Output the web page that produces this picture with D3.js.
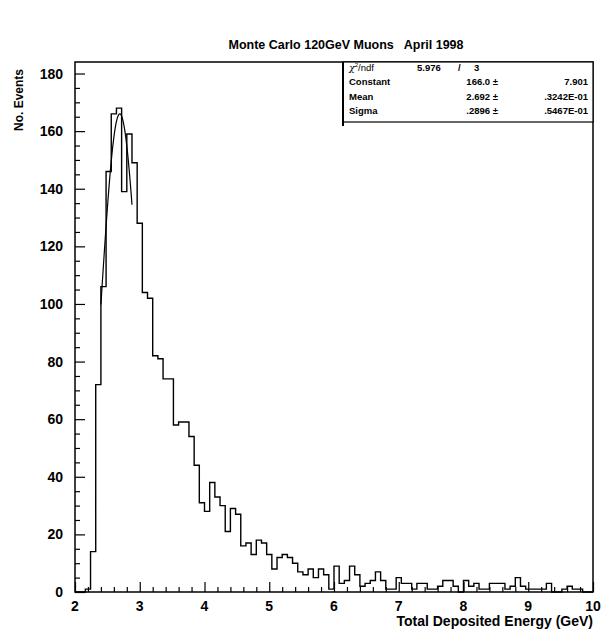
<!DOCTYPE html>
<html>
<head>
<meta charset="utf-8">
<script src="https://cdn.jsdelivr.net/npm/d3@7"></script>
<style>
  body { margin: 0; background: #fff; }
  svg text { font-family: "Liberation Sans", Arial, Helvetica, sans-serif; font-weight: bold; fill: #000; white-space: pre; }
</style>
</head>
<body>
<div id="chart"></div>
<script>
// histogram: 100 bins from 2 to 10 GeV
const binLow = 2;
const binHigh = 10;
const counts = [
    0, 0, 1, 14, 72, 106, 146, 166, 168, 139,
    159, 149, 128, 104, 102, 82, 81, 74, 74, 58,
    59, 59, 54, 44, 31, 28, 38, 33, 30, 21,
    29, 27, 16, 17, 13, 18, 17, 13, 8, 12,
    13, 12, 10, 7, 6, 8, 5, 8, 6, 1,
    9, 3, 4, 9, 6, 2, 3, 4, 7, 4,
    1, 1, 5, 3, 3, 1, 3, 3, 1, 1,
    2, 4, 4, 2, 0, 4, 2, 3, 1, 1,
    3, 3, 3, 1, 2, 5, 2, 1, 1, 1,
    1, 3, 0, 0, 1, 2, 1, 1, 0, 0
];

// gaussian fit shown in the stats box
const fitConstant = 166.0;
const fitMean = 2.692;
const fitSigma = 0.2896;
const fitRange = [2.4, 2.88];

const xTicks = [2, 3, 4, 5, 6, 7, 8, 9, 10];
const yTicks = [0, 20, 40, 60, 80, 100, 120, 140, 160, 180];

const statsRows = [
    ["Constant", "166.0 \u00b1", "7.901"],
    ["Mean", "2.692 \u00b1", ".3242E-01"],
    ["Sigma", ".2896 \u00b1", ".5467E-01"]
];
const chiValue = "5.976";
const ndfValue = "3";

const title = "Monte Carlo 120GeV Muons   April 1998";
const xLabel = "Total Deposited Energy (GeV)";
const yLabel = "No. Events";

const width = 606;
const height = 634;
const margin = { top: 62, right: 13, bottom: 42, left: 75 };

const svg = d3.select("#chart")
    .append("svg")
    .attr("width", width)
    .attr("height", height);

const xScale = d3.scaleLinear()
    .domain([binLow, binHigh])
    .range([margin.left, width - margin.right]);

const yScale = d3.scaleLinear()
    .domain([0, 184])
    .range([height - margin.bottom, margin.top]);

const binWidth = (binHigh - binLow) / counts.length;

// histogram outline
const pts = [[binLow, 0]];
counts.forEach((c, i) => pts.push([binLow + i * binWidth, c]));
pts.push([binHigh, counts[counts.length - 1]]);
pts.push([binHigh, 0]);

const histLine = d3.line()
    .x(d => xScale(d[0]))
    .y(d => yScale(d[1]))
    .curve(d3.curveStepAfter);

svg.append("path")
    .datum(pts)
    .attr("fill", "none")
    .attr("stroke", "#000")
    .attr("stroke-width", 1.4)
    .attr("d", histLine);

// fit curve
const fitPts = d3.range(fitRange[0], fitRange[1] + 1e-9, 0.01).map(x =>
    [x, fitConstant * Math.exp(-0.5 * Math.pow((x - fitMean) / fitSigma, 2))]);

svg.append("path")
    .datum(fitPts)
    .attr("fill", "none")
    .attr("stroke", "#000")
    .attr("stroke-width", 1.2)
    .attr("d", d3.line().x(d => xScale(d[0])).y(d => yScale(d[1])).curve(d3.curveMonotoneX));

// frame
svg.append("rect")
    .attr("x", margin.left)
    .attr("y", margin.top)
    .attr("width", width - margin.left - margin.right)
    .attr("height", height - margin.top - margin.bottom)
    .attr("fill", "none")
    .attr("stroke", "#000")
    .attr("stroke-width", 1.5);

// ticks pointing inward, PAW style
const xAxis = d3.axisTop(xScale)
    .tickValues(d3.range(binLow, binHigh + 0.001, 0.2))
    .tickSize(5)
    .tickFormat("");
svg.append("g")
    .attr("transform", `translate(0,${height - margin.bottom})`)
    .call(xAxis)
    .call(g => g.select(".domain").remove())
    .call(g => g.selectAll(".tick line")
        .attr("y2", d => Math.abs(d - Math.round(d)) < 1e-6 ? -10 : -5)
        .attr("stroke-width", 1.2));

const yAxis = d3.axisRight(yScale)
    .tickValues(d3.range(0, 184, 5))
    .tickSize(5)
    .tickFormat("");
svg.append("g")
    .attr("transform", `translate(${margin.left},0)`)
    .call(yAxis)
    .call(g => g.select(".domain").remove())
    .call(g => g.selectAll(".tick line")
        .attr("x2", d => d % 20 === 0 ? 10 : 5)
        .attr("stroke-width", 1.2));

// tick labels
svg.append("g").selectAll("text")
    .data(xTicks)
    .enter().append("text")
    .attr("x", d => xScale(d))
    .attr("y", height - margin.bottom + 19)
    .attr("text-anchor", "middle")
    .style("font-size", "14px")
    .text(d => d);

svg.append("g").selectAll("text")
    .data(yTicks)
    .enter().append("text")
    .attr("x", margin.left - 12)
    .attr("y", d => yScale(d) + 5)
    .attr("text-anchor", "end")
    .style("font-size", "14px")
    .text(d => d);

// titles
svg.append("text")
    .attr("x", 346)
    .attr("y", 49)
    .attr("text-anchor", "middle")
    .attr("xml:space", "preserve")
    .style("font-size", "12.5px")
    .text(title);

svg.append("text")
    .attr("x", width - margin.right)
    .attr("y", 626)
    .attr("text-anchor", "end")
    .style("font-size", "14px")
    .text(xLabel);

svg.append("text")
    .attr("transform", `translate(23,100) rotate(-90)`)
    .attr("text-anchor", "middle")
    .style("font-size", "12px")
    .text(yLabel);

// stats box
const box = { x0: 343, x1: width - margin.right, y0: margin.top, y1: 122 };
const stats = svg.append("g");
stats.append("rect")
    .attr("x", box.x0)
    .attr("y", box.y0)
    .attr("width", box.x1 - box.x0)
    .attr("height", box.y1 - box.y0)
    .attr("fill", "#fff")
    .attr("stroke", "#000")
    .attr("stroke-width", 1.2);
stats.append("line")
    .attr("x1", box.x0)
    .attr("x2", box.x0)
    .attr("y1", box.y0)
    .attr("y2", box.y1 + 4)
    .attr("stroke", "#000")
    .attr("stroke-width", 2);

const chiRow = stats.append("text")
    .attr("x", 349)
    .attr("y", 71)
    .style("font-size", "9.5px");
chiRow.append("tspan")
    .style("font-weight", "normal")
    .style("font-family", "DejaVu Serif, serif")
    .style("font-style", "italic")
    .text("\u03c7");
chiRow.append("tspan")
    .attr("dy", -4)
    .style("font-size", "6px")
    .style("font-weight", "normal")
    .text("2");
chiRow.append("tspan")
    .attr("dy", 4)
    .style("font-weight", "normal")
    .text("/ndf");
stats.append("text").attr("x", 417).attr("y", 71).style("font-size", "9.5px").text(chiValue);
stats.append("text").attr("x", 458).attr("y", 71).style("font-size", "9.5px").text("/");
stats.append("text").attr("x", 474).attr("y", 71).style("font-size", "9.5px").text(ndfValue);

statsRows.forEach((row, i) => {
    const y = 85 + i * 14.5;
    stats.append("text").attr("x", 349).attr("y", y).style("font-size", "9.5px").text(row[0]);
    stats.append("text").attr("x", 498).attr("y", y).attr("text-anchor", "end").style("font-size", "9.5px").text(row[1]);
    stats.append("text").attr("x", 588).attr("y", y).attr("text-anchor", "end").style("font-size", "9.5px").text(row[2]);
});
</script>
</body>
</html>
